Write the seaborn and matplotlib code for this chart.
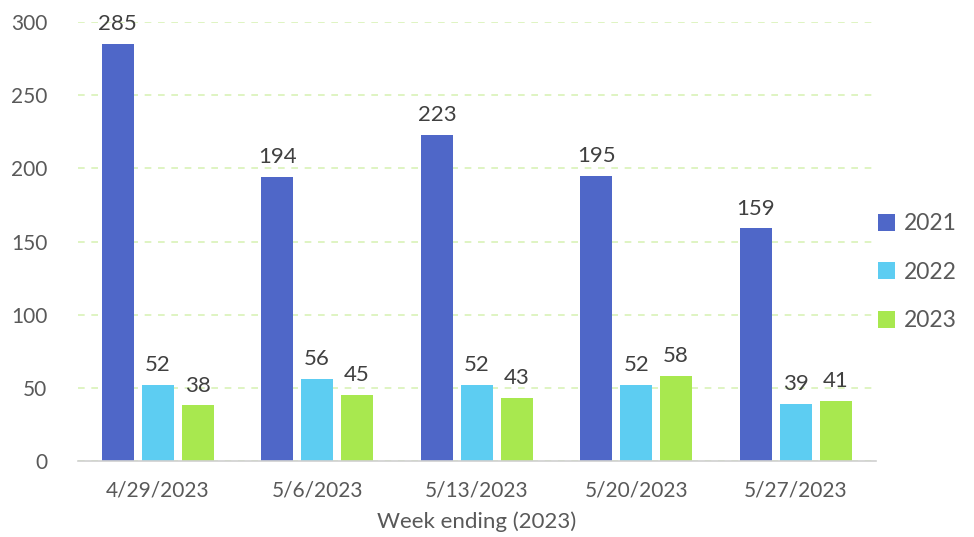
import matplotlib
matplotlib.use("Agg")
import matplotlib.pyplot as plt
import seaborn as sns
import pandas as pd

weeks = ["4/29/2023", "5/6/2023", "5/13/2023", "5/20/2023", "5/27/2023"]
years = ["2021", "2022", "2023"]
v2021 = [285, 194, 223, 195, 159]
v2022 = [52, 56, 52, 52, 39]
v2023 = [38, 45, 43, 58, 41]
colors = ["#4F67C8", "#5DCDF2", "#A8E84F"]

rows = []
for y, vals in zip(years, [v2021, v2022, v2023]):
    for w, v in zip(weeks, vals):
        rows.append({"week": w, "year": y, "value": v})
df = pd.DataFrame(rows)

sns.set_theme(style="white")
plt.rcParams['font.family'] = ['Lato', 'DejaVu Sans']
txt = "#595959"

fig = plt.figure(figsize=(9.74, 5.37), dpi=100)
ax = fig.add_axes([0.080, 0.1415, 0.819, 0.8175])
sns.barplot(data=df, x="week", y="value", hue="year", order=weeks, hue_order=years,
            palette=colors, width=0.75, gap=0.2, ax=ax, saturation=1, errorbar=None,
            linewidth=0)

for cont in ax.containers:
    ax.bar_label(cont, labels=[f"{int(v)}" for v in cont.datavalues], padding=7,
                 fontsize=16, color="#404040")

ax.set_ylim(0, 300)
ax.set_xlim(-0.5, 4.5)
ax.set_yticks(range(0, 301, 50))
ax.yaxis.grid(True, linestyle=(0, (4, 4)), color="#D9F2B8", linewidth=1.2)
ax.set_axisbelow(True)
for s in ["top", "right", "left"]:
    ax.spines[s].set_visible(False)
ax.spines["bottom"].set_color("#D0D0D0")
ax.spines["bottom"].set_linewidth(1.2)
ax.tick_params(axis="both", length=0, labelsize=15, colors=txt)
ax.tick_params(axis="x", pad=14)
ax.tick_params(axis="y", pad=22)
ax.set_ylabel("")
ax.set_xlabel("Week ending (2023)", fontsize=16, color=txt, labelpad=8)

leg = ax.legend(loc="center left", bbox_to_anchor=(1.003, 0.43), frameon=False,
                borderaxespad=0, borderpad=0,
                fontsize=16.5, labelcolor=txt, handlelength=0.75, handleheight=0.75,
                handletextpad=0.4, labelspacing=1.2)

fig.savefig("out.png", dpi=100)
